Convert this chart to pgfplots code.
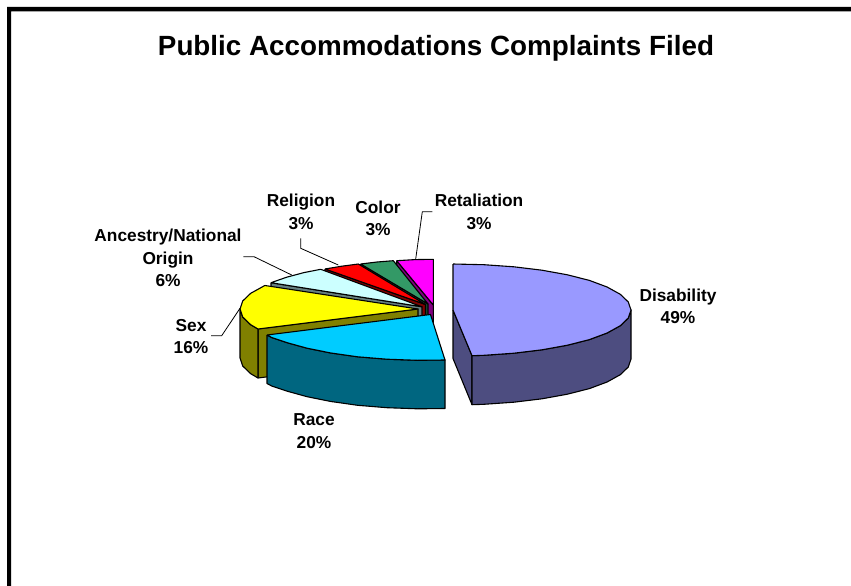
\documentclass[border=0pt]{standalone}
\usepackage{fontspec}
\setmainfont{Liberation Sans}
\usepackage{pgfplots}
\pgfplotsset{compat=1.18}
\definecolor{dis}{HTML}{9999FF}\definecolor{disd}{HTML}{4D4D80}
\definecolor{rac}{HTML}{00CCFF}\definecolor{racd}{HTML}{006680}
\definecolor{sx}{HTML}{FFFF00}\definecolor{sxd}{HTML}{808000}
\definecolor{anc}{HTML}{CCFFFF}\definecolor{ancd}{HTML}{668080}
\definecolor{rel}{HTML}{FF0000}\definecolor{reld}{HTML}{800000}
\definecolor{col}{HTML}{339966}\definecolor{cold}{HTML}{1A4D33}
\definecolor{ret}{HTML}{FF00FF}\definecolor{retd}{HTML}{800080}
\tikzset{
  lab/.style={anchor=base,inner sep=0pt,font=\fontsize{17.3}{20}\selectfont\bfseries},
  ttl/.style={anchor=base,inner sep=0pt,font=\fontsize{27.8}{32}\selectfont\bfseries},
}
\begin{document}
\begin{tikzpicture}
\begin{axis}[
  scale only axis,width=851pt,height=586pt,
  xmin=0,xmax=851,ymin=0,ymax=586,y dir=reverse,
  hide axis,clip=false,
  every axis plot/.append style={no markers,sharp plot,line join=round,line width=1.1pt,draw=black,forget plot},
]
\path (axis cs:0,0) rectangle (axis cs:851,586);
% frame
\addplot[fill=black,draw=none] coordinates {(851,7)(7,7)(7,586)(11,586)(11,11.3)(851,11.3)(851,7)};
% Retaliation
\addplot[fill=retd] coordinates {(396.7,260.7)(433.3,305)(433.3,354)(396.7,309.7)(396.7,260.7)};
\addplot[fill=ret] coordinates {(396.7,260.7)(415,259.6)(433.3,259.3)(433.3,305)(396.7,260.7)};
% Color
\addplot[fill=cold] coordinates {(360.7,264)(428,304)(428,353)(360.7,313)(360.7,264)};
\addplot[fill=col] coordinates {(360.7,264)(377,262)(393.3,260.7)(428,304)(360.7,264)};
% Religion
\addplot[fill=reld] coordinates {(325,269)(425.5,304.5)(425.5,353.5)(325,318)(325,269)};
\addplot[fill=rel] coordinates {(325,269)(341,266.3)(358.3,264)(425.5,304.5)(325,269)};
% Ancestry
\addplot[fill=ancd] coordinates {(271,282.7)(422,306.8)(422,355.8)(271,331.7)(271,282.7)};
\addplot[fill=anc] coordinates {(271,282.7)(286.7,277.2)(303.9,272.6)(320.7,269.3)(422,306.8)(271,282.7)};
% Sex
\addplot[fill=sxd] coordinates {(258,329)(418,309)(418,358)(258,378)(258,329)};
\addplot[fill=sxd] coordinates {(258,329)(250.7,324.7)(242.7,317)(240,309)(240,358)(242.7,366)(250.7,373.7)(258,378)(258,329)};
\addplot[fill=sx] coordinates {(258,329)(250.7,324.7)(242.7,317)(240,309)(242.7,301)(250.7,293.3)(263.9,286)(265,285.5)(418,309)(258,329)};
% Race
\addplot[fill=racd] coordinates {(267,335)(271.7,337.5)(287.2,342.7)(307.1,348.2)(330.9,353)(357.7,356.8)(386.9,359.2)(417.5,360.3)(445,360)(445,408.5)(417.5,408.8)(386.9,407.7)(357.7,405.3)(330.9,401.5)(307.1,396.7)(287.2,391.2)(271.7,386)(267,383.5)(267,335)};
\addplot[fill=rac] coordinates {(267,335)(271.7,337.5)(287.2,342.7)(307.1,348.2)(330.9,353)(357.7,356.8)(386.9,359.2)(417.5,360.3)(445,360)(430.5,314.5)(267,335)};
% Disability
\addplot[fill=disd] coordinates {(453,310)(472,355.7)(472,404.7)(453,358.5)(453,310)};
\addplot[fill=disd] coordinates {(472,355.7)(483.9,355.3)(513.9,353.2)(542,349.8)(567.4,345.2)(589.4,339.6)(607.1,333)(620.3,325.7)(628.3,318)(631,310)(631,359)(628.3,367)(620.3,374.7)(607.1,382)(589.4,388.6)(567.4,394.2)(542,398.8)(513.9,402.2)(483.9,404.3)(472,404.7)(472,355.7)};
\addplot[fill=dis] coordinates {(453,264)(483.9,264.7)(513.9,266.8)(542,270.2)(567.4,274.8)(589.4,280.4)(607.1,287)(620.3,294.3)(628.3,302)(631,310)(628.3,318)(620.3,325.7)(607.1,333)(589.4,339.6)(567.4,345.2)(542,349.8)(513.9,353.2)(483.9,355.3)(472,355.7)(453,310)(453,264)};
% leader lines
\addplot[line width=0.8pt] coordinates {(432.3,211.7)(422.3,211.7)(415.7,259)};
\addplot[line width=0.8pt] coordinates {(300.7,238.3)(300.7,248.3)(338.3,265)};
\addplot[line width=0.8pt] coordinates {(243.3,256.7)(254,256.7)(291.7,275)};
\addplot[line width=0.8pt] coordinates {(211,335.7)(221.7,335.7)(240,308.3)};
% text
\node[ttl] at (axis cs:436,56) {Public Accommodations Complaints Filed};
\node[lab] at (axis cs:678,301) {Disability};
\node[lab] at (axis cs:678,323) {49\%};
\node[lab] at (axis cs:314,425) {Race};
\node[lab] at (axis cs:314,448) {20\%};
\node[lab] at (axis cs:191,331) {Sex};
\node[lab] at (axis cs:191,353) {16\%};
\node[lab] at (axis cs:168,241.5) {Ancestry/National};
\node[lab] at (axis cs:168,264) {Origin};
\node[lab] at (axis cs:168,286) {6\%};
\node[lab] at (axis cs:301,206.5) {Religion};
\node[lab] at (axis cs:301,229) {3\%};
\node[lab] at (axis cs:378,213) {Color};
\node[lab] at (axis cs:378,235) {3\%};
\node[lab] at (axis cs:479,206.5) {Retaliation};
\node[lab] at (axis cs:479,229) {3\%};
\end{axis}
\end{tikzpicture}
\end{document}
